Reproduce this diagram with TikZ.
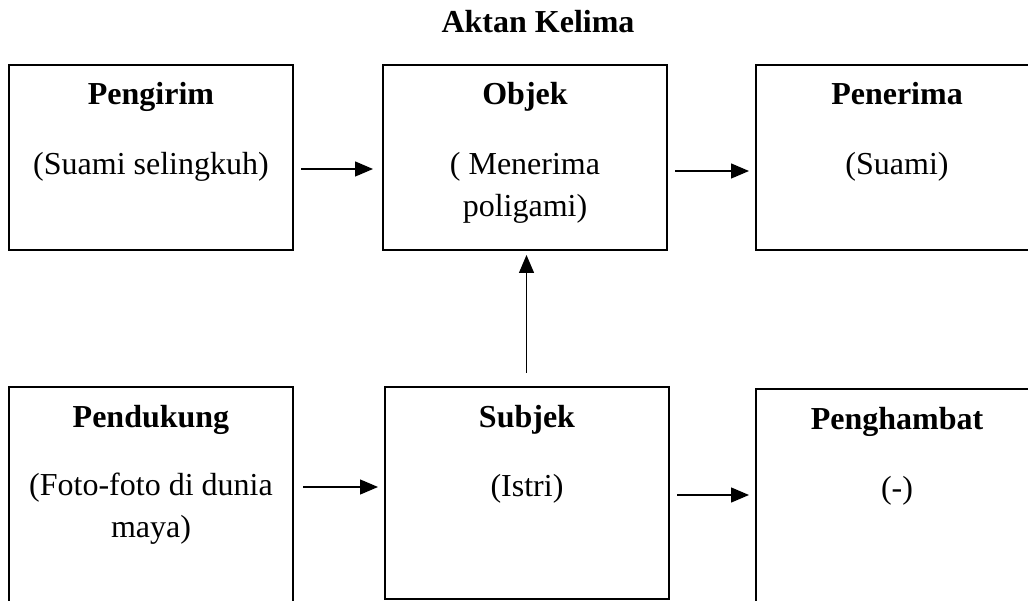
\documentclass[tikz,border=0pt]{standalone}
\usepackage{fontspec}
\setmainfont{Liberation Serif}
\usetikzlibrary{arrows.meta,calc}

\tikzset{
  box/.style={draw, line width=1.3pt, rectangle, anchor=north west,
    inner sep=0pt, outer sep=0pt},
  head/.style={font=\fontsize{32}{42}\selectfont\bfseries, anchor=base,
    inner sep=0pt},
  body/.style={font=\fontsize{32}{42}\selectfont, anchor=base,
    align=center, inner sep=0pt},
  arr/.style={line width=1.3pt, -{Triangle[length=18pt,width=15pt]}},
}

\begin{document}
\begin{tikzpicture}[x=1pt, y=-1pt]
  \useasboundingbox (0,0) rectangle (1028,601);
  \clip (0,0) rectangle (1028,601);

  % title
  \node[head] (title) at (538,33) {Aktan Kelima};

  % upper row
  \node[box, minimum width=284pt, minimum height=185pt] (pengirim) at (9,65) {};
  \node[box, minimum width=284pt, minimum height=185pt] (objek) at (383,65) {};
  \node[box, minimum width=284pt, minimum height=185pt] (penerima) at (756,65) {};

  % lower row (outer boxes run past the page edge)
  \node[box, minimum width=284pt, minimum height=240pt] (pendukung) at (9,387) {};
  \node[box, minimum width=284pt, minimum height=212pt] (subjek) at (385,387) {};
  \node[box, minimum width=284pt, minimum height=240pt] (penghambat) at (756,389) {};

  % box texts (a multi-line node sits on the baseline of its last line)
  \node[head] (tpengirim) at (151,105) {Pengirim};
  \node[body] (bpengirim) at (151,175) {(Suami selingkuh)};
  \node[head] (tobjek) at (525,105) {Objek};
  \node[body] (bobjek) at (525,217) {( Menerima\\poligami)};
  \node[head] (tpenerima) at (897,105) {Penerima};
  \node[body] (bpenerima) at (897,175) {(Suami)};

  \node[head] (tpendukung) at (151,427) {Pendukung};
  \node[body] (bpendukung) at (151,537) {(Foto-foto di dunia\\maya)};
  \node[head] (tsubjek) at (527,427) {Subjek};
  \node[body] (bsubjek) at (527,496) {(Istri)};
  \node[head] (tpenghambat) at (897,429) {Penghambat};
  \node[body] (bpenghambat) at (897,498) {(-)};

  % connectors
  \draw[arr, shorten <=8pt, shorten >=10pt]
    ([yshift=-11.5pt]pengirim.east) -- ([yshift=-11.5pt]objek.west);
  \draw[arr, shorten <=8pt, shorten >=7pt]
    ([yshift=-13.5pt]objek.east) -- ([yshift=-13.5pt]penerima.west);
  \draw[arr, shorten <=14pt, shorten >=5pt]
    ([xshift=-0.5pt]subjek.north) -- ([xshift=-0.5pt]subjek.north |- objek.south);
  \draw[arr, shorten <=10pt, shorten >=7pt]
    ([yshift=-100pt]pendukung.north east) -- ([yshift=-100pt]subjek.north west);
  \draw[arr, shorten <=8pt, shorten >=7pt]
    ([yshift=-108pt]subjek.north east) -- ([yshift=-108pt]subjek.north east -| penghambat.west);
\end{tikzpicture}
\end{document}
